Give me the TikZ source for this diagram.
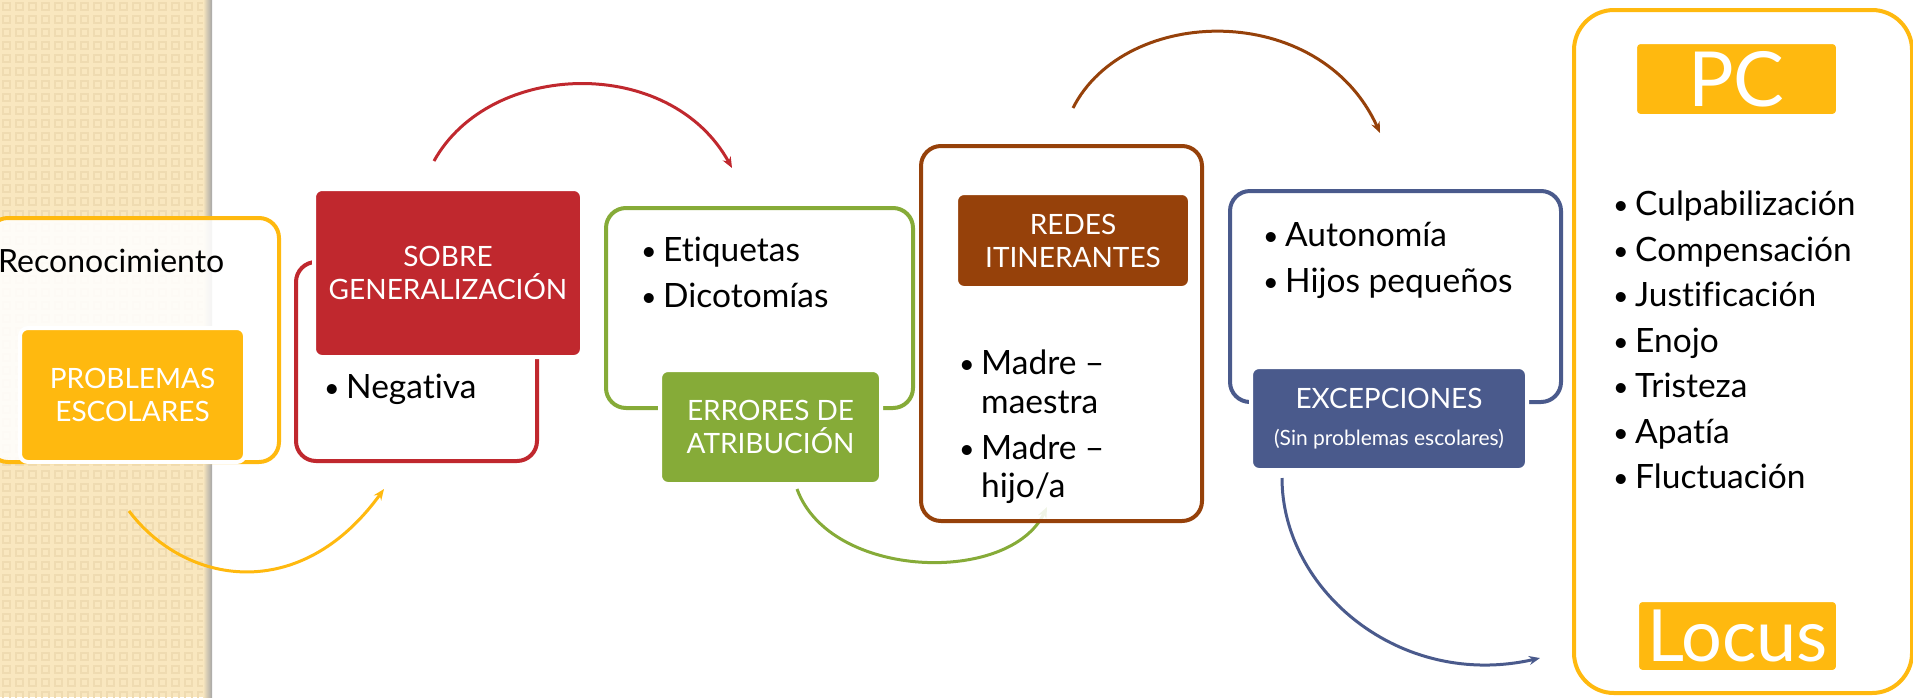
\documentclass[tikz,border=0pt]{standalone}
\usepackage{fontspec}
\usepackage{graphicx}
\setmainfont{Lato}[Ligatures=NoCommon]
\usetikzlibrary{arrows.meta}
\definecolor{amber}{HTML}{FFB90F}
\definecolor{cred}{HTML}{C0282E}
\definecolor{cgreen}{HTML}{86AB38}
\definecolor{cbrown}{HTML}{96410A}
\definecolor{cblue}{HTML}{4A5A8C}
\definecolor{beige}{HTML}{F9E7BF}
\definecolor{beiged}{HTML}{EFDBB1}
\newcommand{\bt}{\makebox[24pt][l]{\hspace{2pt}\raisebox{1.5pt}{\scalebox{0.8}{\textbullet}}}}
\newcommand{\nb}{\hspace*{24pt}}
\begin{document}
\begin{tikzpicture}[x=1pt,y=-1pt,
  outl/.style={draw=#1, line width=4pt, rounded corners=20pt, fill=white, fill opacity=0.88, text opacity=1, inner sep=0pt},
  filled/.style={fill=#1, draw=white, line width=4pt, rounded corners=8pt, inner sep=0pt, text=white, align=center, font=\fontsize{28}{33}\selectfont},
  bul/.style={anchor=mid west, inner sep=0pt, font=\fontsize{33.5}{38}\selectfont},
  flow/.style={draw=#1, line width=3pt, -{Stealth[length=11pt,width=9pt]}},
]
\useasboundingbox (0,0) rectangle (1913,697);
% background strip
\fill[beige] (0,0) rectangle (212,697);
\foreach \i in {0,...,15}{
  \foreach \j in {0,...,53}{
    \draw[beiged, line width=1.3pt] (\i*13+3,\j*13+3) rectangle ++(7,7);
  }
}
\shade[left color=beige, right color=black!35] (203,0) rectangle (212,697);

% connectors
\coordinate (ya1) at (129,511); \coordinate (ya2) at (384,489);
\coordinate (ra1) at (434,161); \coordinate (ra2) at (732,168);
\coordinate (ga1) at (797,489); \coordinate (ga2) at (1047,507);
\coordinate (ba1) at (1073,108); \coordinate (ba2) at (1380,133);
\coordinate (bl1) at (1282,478); \coordinate (bl2) at (1540,658);
\draw[flow=amber] (ya1) .. controls (185,585) and (300,605) .. (ya2);
\draw[flow=cred] (ra1) .. controls (490,60) and (670,55) .. (ra2);
\draw[flow=cgreen] (ga1) .. controls (830,580) and (1010,585) .. (ga2);
\draw[flow=cbrown] (ba1) .. controls (1125,5) and (1320,0) .. (ba2);
\draw[flow=cblue] (bl1) .. controls (1282,590) and (1400,690) .. (bl2);

% group 1
\node[outl=amber, minimum width=291pt, minimum height=244pt] (g1) at (133.5,340) {};
\node[bul, font=\fontsize{32}{36}\selectfont] (reco) at (-2,270) {Reconocimiento};
\node[filled=amber, minimum width=225pt, minimum height=134pt] (prob) at (132.5,395) {PROBLEMAS\\ESCOLARES};

% group 2
\node[outl=cred, minimum width=241pt, minimum height=199pt] (g2) at (416.5,361.5) {};
\node[filled=cred, minimum width=268pt, minimum height=168pt] (sobre) at (448,273) {SOBRE\\GENERALIZACIÓN};
\node[bul] (neg) at (322,396) {\bt Negativa};

% group 3
\node[outl=cgreen, minimum width=307pt, minimum height=200pt] (g3) at (759.5,308) {};
\node[filled=cgreen, minimum width=221pt, minimum height=114pt] (err) at (770.5,427) {ERRORES DE\\ATRIBUCIÓN};
\node[bul] (eti) at (639,259) {\bt Etiquetas};
\node[bul] (dic) at (639,305) {\bt Dicotomías};

% group 4
\node[outl=cbrown, minimum width=281pt, minimum height=375pt] (g4) at (1061.5,333.5) {};
\node[filled=cbrown, minimum width=234pt, minimum height=95pt] (redes) at (1073,240.5) {REDES\\ITINERANTES};
\node[bul] (m1) at (957,372) {\bt Madre –};
\node[bul] (m1b) at (957,411) {\nb maestra};
\node[bul] (m2) at (957,457) {\bt Madre –};
\node[bul] (m2b) at (957,495) {\nb hijo/a};

% group 5
\node[outl=cblue, minimum width=331pt, minimum height=211pt] (g5) at (1395.5,296.5) {};
\node[filled=cblue, minimum width=276pt, minimum height=103pt] (exc) at (1389,418.5) {EXCEPCIONES\\[4pt]{\fontsize{21}{24}\selectfont (Sin problemas escolares)}};
\node[bul] (aut) at (1261,244) {\bt Autonomía};
\node[bul] (hij) at (1261,290) {\bt Hijos pequeños};

% group 6
\node[outl=amber, rounded corners=40pt, minimum width=338pt, minimum height=683pt] (g6) at (1743,351.5) {};
\node[filled=amber, rounded corners=5pt, minimum width=203pt, minimum height=74pt, font=\fontsize{76}{76}\selectfont] (pc) at (1736.5,79) {PC};
\node[filled=amber, rounded corners=5pt, minimum width=201pt, minimum height=72pt, font=\fontsize{72}{72}\selectfont] (locus) at (1737.5,636) {Locus};
\node[bul] (l1) at (1611,213) {\bt Culpabilización};
\node[bul] (l2) at (1611,259) {\bt Compensación};
\node[bul] (l3) at (1611,304) {\bt Justificación};
\node[bul] (l4) at (1611,350) {\bt Enojo};
\node[bul] (l5) at (1611,395) {\bt Tristeza};
\node[bul] (l6) at (1611,441) {\bt Apatía};
\node[bul] (l7) at (1611,486) {\bt Fluctuación};
\end{tikzpicture}
\end{document}
